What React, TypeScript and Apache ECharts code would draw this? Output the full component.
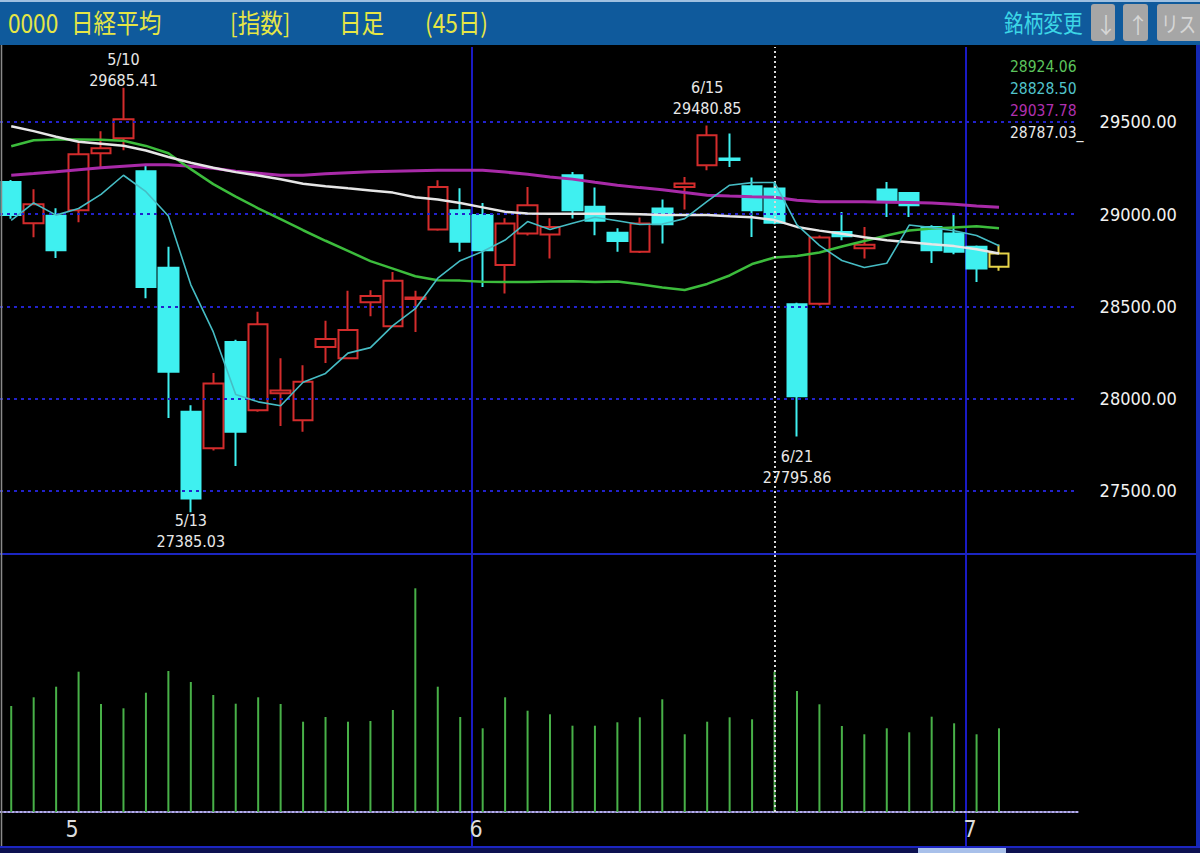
import React, { useEffect, useRef } from "react";
import * as echarts from "echarts";

// Trading days shown on the daily chart (45 sessions)
const dates = [
  "4/27", "4/28", "4/30",
  "5/6", "5/7", "5/10", "5/11", "5/12", "5/13", "5/14", "5/17", "5/18", "5/19", "5/20", "5/21",
  "5/24", "5/25", "5/26", "5/27", "5/28", "5/31",
  "6/1", "6/2", "6/3", "6/4", "6/7", "6/8", "6/9", "6/10", "6/11", "6/14", "6/15", "6/16", "6/17",
  "6/18", "6/21", "6/22", "6/23", "6/24", "6/25", "6/28", "6/29", "6/30",
  "7/1", "7/2",
];

const opens = [29175, 28951, 28991, 29022, 29330, 29412, 29233, 28710, 27929, 27731, 28308, 27938, 28030, 27884, 28280, 28220, 28523, 28393, 28540, 28917, 29022, 28995, 28724, 28895, 28890, 29211, 29040, 28899, 28796, 29031, 29148, 29265, 29302, 29152, 29139, 28512, 28515, 28904, 28815, 29134, 29115, 28931, 28895, 28823, 28715];
const closes = [28995, 29054, 28805, 29325, 29357, 29515, 28606, 28146, 27460, 28083, 27821, 28404, 28044, 28092, 28323, 28372, 28556, 28639, 28549, 29148, 28850, 28805, 28949, 29049, 28930, 29022, 28964, 28855, 28950, 28946, 29166, 29428, 29293, 29022, 28953, 28014, 28874, 28881, 28835, 29067, 29049, 28805, 28796, 28706, 28787.03];
const lows = [28975, 28875, 28762, 28957, 29249, 29347, 28545, 27895, 27385.03, 27720, 27635, 27930, 27852, 27821, 28193, 28215, 28447, 28390, 28362, 28910, 28796, 28606, 28570, 28884, 28760, 28977, 28886, 28796, 28790, 28841, 29025, 29238, 29256, 28877, 28945, 27795.86, 28505, 28859, 28760, 28985, 28985, 28736, 28783, 28633, 28693];
const highs = [29185, 29135, 29032, 29385, 29450, 29685.41, 29271, 28823, 27965, 28139, 28320, 28471, 28220, 28182, 28422, 28585, 28588, 28687, 28585, 29184, 29141, 29060, 28978, 29148, 28978, 29229, 29145, 28924, 28982, 29080, 29202, 29480.85, 29437, 29199, 29175, 28520, 28885, 29012, 28931, 29175, 29120, 28940, 28995, 28830, 28836];

// Volume, millions of shares
const volumes = [1060, 1147, 1253, 1403, 1080, 1037, 1193, 1410, 1300, 1170, 1083, 1147, 1080, 903, 950, 903, 910, 1020, 2237, 1253, 950, 837, 1147, 1013, 977, 863, 863, 897, 947, 1127, 777, 903, 947, 927, 1403, 1210, 1077, 860, 777, 837, 797, 953, 887, 777, 837];

// Moving averages
const ma5 = [28967, 29061, 28995, 29031, 29107, 29211, 29122, 28990, 28617, 28362, 28023, 27983, 27962, 28089, 28137, 28247, 28277, 28396, 28488, 28653, 28748, 28798, 28860, 28960, 28917, 28951, 28983, 28964, 28944, 28947, 28976, 29069, 29157, 29171, 29172, 28942, 28831, 28749, 28711, 28734, 28941, 28927, 28910, 28885, 28828.5];
const ma25 = [29368, 29401, 29405, 29405, 29404, 29398, 29370, 29330, 29244, 29163, 29095, 29032, 28973, 28913, 28856, 28801, 28746, 28705, 28664, 28642, 28640, 28634, 28633, 28633, 28635, 28636, 28633, 28635, 28620, 28603, 28589, 28622, 28668, 28730, 28765, 28773, 28792, 28825, 28855, 28885, 28912, 28922, 28928, 28934, 28924.06];
const ma75 = [29477, 29450, 29420, 29393, 29382, 29371, 29345, 29310, 29279, 29252, 29228, 29210, 29189, 29165, 29152, 29140, 29129, 29117, 29092, 29080, 29061, 29037, 29013, 29004, 29003, 29003, 29002, 29002, 29000, 28995, 28995, 28995, 28989, 28984, 28968, 28931, 28911, 28894, 28875, 28859, 28848, 28837, 28827, 28810, 28787.03];
const ma100 = [29211, 29220, 29230, 29241, 29252, 29260, 29268, 29268, 29260, 29249, 29233, 29222, 29211, 29211, 29219, 29225, 29230, 29233, 29236, 29238, 29238, 29238, 29228, 29217, 29201, 29190, 29173, 29157, 29144, 29133, 29117, 29103, 29098, 29094, 29092, 29076, 29068, 29067, 29067, 29065, 29063, 29060, 29054, 29045, 29037.78];

// Sessions whose extreme is annotated on the chart
const highMarks = [5, 31];
const lowMarks = [8, 35];
const cursorIndex = 34;
const padSlots = 3;

// Extra gap (px) between a mark and its annotation
const labelGap: Record<number, number> = { 5: -3, 31: 6, 8: -2, 35: 10 };

const NARROW = "'Liberation Sans Narrow', 'Arial Narrow', 'DejaVu Sans Condensed', 'Roboto Condensed', sans-serif";
const CJK = "'Noto Sans CJK JP', 'Noto Sans', sans-serif";

const W = 1200;
const H = 853;
const SLOT = 22.45;
const GRID_W = SLOT * (dates.length + padSlots);

export default function App() {
  const ref = useRef<HTMLDivElement>(null);

  useEffect(() => {
    if (!ref.current) return;
    const chart = echarts.init(ref.current, null, { renderer: "svg" });

    const slots = [...dates, ...Array.from({ length: padSlots }, (_, k) => " ".repeat(k + 1))];
    const month = (d: string) => d.split("/")[0];
    const monthStarts = dates
      .map((d, i) => (i > 0 && month(d) !== month(dates[i - 1]) ? i : -1))
      .filter((i) => i >= 0);
    const isMonthStart = (i: number) => monthStarts.includes(i);

    const last = dates.length - 1;
    const candles = dates.map((_, i) => {
      const v = [opens[i], closes[i], lows[i], highs[i]];
      if (i === last) {
        return {
          value: v,
          itemStyle: { color: "transparent", color0: "transparent", borderColor: "#e6d44a", borderColor0: "#e6d44a" },
        };
      }
      return v;
    });

    const markLabel = { color: "#e8e8e8", fontSize: 16, fontFamily: NARROW, lineHeight: 21 };
    const markData = [
      ...highMarks.map((i) => ({
        coord: [dates[i], highs[i]],
        label: { ...markLabel, position: "top", distance: labelGap[i] ?? 0, formatter: `${dates[i]}\n${highs[i].toFixed(2)}` },
      })),
      ...lowMarks.map((i) => ({
        coord: [dates[i], lows[i]],
        label: { ...markLabel, position: "bottom", distance: labelGap[i] ?? 0, formatter: `${dates[i]}\n${lows[i].toFixed(2)}` },
      })),
    ];

    const monthLine = {
      show: true,
      showMinLine: false,
      showMaxLine: false,
      interval: (i: number) => isMonthStart(i),
      lineStyle: { color: "#1a1ac4", width: 2, type: "solid" },
    };

    const cursorLine = {
      silent: true,
      symbol: "none",
      label: { show: false },
      lineStyle: { color: "#d8d8d8", type: [2, 3], width: 2 },
      data: [{ xAxis: dates[cursorIndex] }],
    };

    const maSeries = (name: string, data: number[], color: string, width: number, z: number) => ({
      name,
      type: "line",
      xAxisIndex: 0,
      yAxisIndex: 0,
      data,
      showSymbol: false,
      symbol: "none",
      z,
      lineStyle: { color, width },
    });

    const legendRows = [
      { text: ma25[last].toFixed(2), color: "#5cc45c" },
      { text: ma5[last].toFixed(2), color: "#52c4cc" },
      { text: ma100[last].toFixed(2), color: "#b030b0" },
      { text: ma75[last].toFixed(2) + "_", color: "#e8e8e8" },
    ];

    const headerText = (text: string, x: number, fill: string, size: number, sx: number) => ({
      type: "text",
      x,
      y: 22,
      scaleX: sx,
      z: 20,
      style: { text, fill, fontSize: size, fontFamily: CJK, align: "left", verticalAlign: "middle" },
    });

    const button = (x: number, w: number, label: string, sx: number) => ({
      type: "group",
      z: 20,
      children: [
        { type: "rect", shape: { x, y: 4, width: w, height: 37, r: 3 }, style: { fill: "#a6a6a6" }, z: 20 },
        {
          type: "text",
          x: x + 4,
          y: 23,
          scaleX: sx,
          z: 21,
          style: { text: label, fill: "#d6d6d6", fontSize: 22, fontFamily: CJK, align: "left", verticalAlign: "middle" },
        },
      ],
    });

    chart.setOption({
      animation: false,
      backgroundColor: "#000000",
      grid: [
        { left: 0, top: 47, width: GRID_W, height: 506 },
        { left: 0, top: 555, width: GRID_W, height: 257 },
        { left: 0, top: 812, width: GRID_W, height: 34 },
      ],
      xAxis: [
        {
          gridIndex: 0,
          type: "category",
          data: slots,
          boundaryGap: true,
          axisLine: { show: false },
          axisTick: { show: false },
          axisLabel: { show: false },
          splitLine: monthLine,
        },
        {
          gridIndex: 1,
          type: "category",
          data: slots,
          boundaryGap: true,
          axisLine: { show: false },
          axisTick: { show: false },
          axisLabel: { show: false },
          splitLine: monthLine,
        },
        {
          gridIndex: 2,
          type: "category",
          data: slots,
          boundaryGap: true,
          position: "top",
          axisLine: { show: true, onZero: false, lineStyle: { color: "#b4acf0", width: 2, type: [2, 2] } },
          axisTick: { show: false },
          axisLabel: {
            show: true,
            inside: true,
            margin: 5,
            interval: (i: number) => isMonthStart(i),
            formatter: (v: string) => String(parseInt(month(v), 10)),
            color: "#dcdcdc",
            fontSize: 23,
            fontFamily: NARROW,
            align: "right",
          },
          splitLine: monthLine,
        },
      ],
      yAxis: [
        {
          gridIndex: 0,
          type: "value",
          position: "right",
          min: 27164,
          max: 29906,
          splitNumber: 5,
          z: 3,
          axisLine: { show: false },
          axisTick: { show: false },
          axisLabel: {
            showMinLabel: false,
            showMaxLabel: false,
            formatter: (v: number) => v.toFixed(2),
            color: "#f2f2f2",
            fontSize: 18,
            fontFamily: NARROW,
            align: "left",
            margin: 22,
            padding: [5, 0, 0, 0],
          },
          splitLine: {
            show: true,
            showMinLine: false,
            showMaxLine: false,
            lineStyle: { color: "#2222cc", width: 2, type: [3, 4] },
          },
        },
        { gridIndex: 1, type: "value", min: 0, max: 2570, show: false, splitLine: { show: false } },
        { gridIndex: 2, type: "value", show: false, splitLine: { show: false } },
      ],
      series: [
        {
          name: "日経平均",
          type: "candlestick",
          xAxisIndex: 0,
          yAxisIndex: 0,
          barWidth: 20,
          z: 2,
          data: candles,
          itemStyle: {
            color: "transparent",
            color0: "#3ff0f0",
            borderColor: "#d42c2c",
            borderColor0: "#3ff0f0",
            borderWidth: 2,
          },
          markPoint: { symbol: "circle", symbolSize: 0, silent: true, data: markData },
          markLine: cursorLine,
        },
        maSeries("ma100", ma100, "#a82aa8", 3, 4),
        maSeries("ma25", ma25, "#3cbc3c", 2.5, 4),
        maSeries("ma75", ma75, "#e6e6e6", 2.5, 4),
        maSeries("ma5", ma5, "#46bcc4", 1.6, 5),
        {
          name: "出来高",
          type: "bar",
          xAxisIndex: 1,
          yAxisIndex: 1,
          barWidth: 2,
          data: volumes,
          itemStyle: { color: "#48b048" },
          markLine: cursorLine,
        },
      ],
      graphic: [
        // header bar
        { type: "rect", z: 19, shape: { x: 0, y: 0, width: W, height: 45 }, style: { fill: "#0f5a9c" } },
        { type: "rect", z: 19, shape: { x: 0, y: 0, width: W, height: 2 }, style: { fill: "#9fc0e0" } },
        headerText("0000", 8, "#e6e645", 26, 0.87),
        headerText("日経平均", 71, "#e6e645", 26, 0.87),
        headerText("[指数]", 230, "#e6e645", 26, 0.87),
        headerText("日足", 339, "#e6e645", 26, 0.87),
        headerText(`(${dates.length}日)`, 425, "#e6e645", 26, 0.87),
        headerText("銘柄変更", 1004, "#3cd6e6", 24, 0.82),
        button(1091, 24, "↓", 1),
        button(1123, 25, "↑", 1),
        button(1157, 50, "リスト", 0.8),
        // moving-average readouts
        ...legendRows.map((r, k) => ({
          type: "text",
          x: 1010,
          y: 67 + k * 22,
          z: 20,
          style: { text: r.text, fill: r.color, fontSize: 15.5, fontFamily: NARROW, align: "left", verticalAlign: "middle" },
        })),
        // panel borders
        { type: "line", z: 18, shape: { x1: 0, y1: 554, x2: W, y2: 554 }, style: { stroke: "#1c26c2", lineWidth: 2 } },
        { type: "line", z: 18, shape: { x1: 1.5, y1: 45, x2: 1.5, y2: 846 }, style: { stroke: "#8a8a8a", lineWidth: 1.5 } },
        { type: "rect", z: 18, shape: { x: 1196, y: 45, width: 4, height: 803 }, style: { fill: "#1428b4" } },
        { type: "rect", z: 18, shape: { x: 0, y: 846, width: W, height: 7 }, style: { fill: "#0c1050" } },
        { type: "rect", z: 18, shape: { x: 0, y: 846, width: W, height: 2 }, style: { fill: "#1c26c2" } },
        { type: "rect", z: 18, shape: { x: 918, y: 848, width: 88, height: 5 }, style: { fill: "#a8c0ea" } },
      ],
    });

    return () => chart.dispose();
  }, []);

  return <div ref={ref} style={{ position: "fixed", left: 0, top: 0, width: W, height: H }} />;
}
